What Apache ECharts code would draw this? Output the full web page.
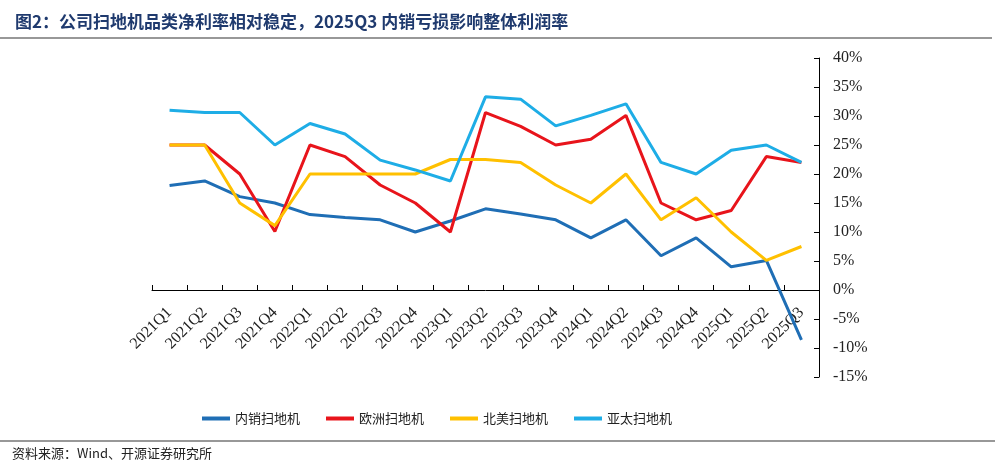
<!DOCTYPE html>
<html>
<head>
<meta charset="utf-8">
<script src="https://cdn.jsdelivr.net/npm/echarts@6/dist/echarts.min.js"></script>
<style>
html,body{margin:0;padding:0;background:#fff;}
#c{width:1000px;height:472px;}
</style>
</head>
<body>
<div id="c"></div>
<script>
var categories = ['2021Q1','2021Q2','2021Q3','2021Q4','2022Q1','2022Q2','2022Q3','2022Q4','2023Q1','2023Q2','2023Q3','2023Q4','2024Q1','2024Q2','2024Q3','2024Q4','2025Q1','2025Q2','2025Q3'];
var domestic = [18.0,18.8,16.1,15.0,13.0,12.5,12.1,10.0,11.9,14.0,13.1,12.1,9.0,12.1,5.9,9.0,4.0,5.1,-8.6];
var europe   = [25.0,25.0,20.0,10.1,25.0,23.0,18.1,15.0,10.0,30.6,28.2,25.0,26.0,30.1,15.0,12.1,13.7,23.0,22.0];
var northAm  = [25.0,25.0,15.0,11.1,20.0,20.0,20.0,20.0,22.5,22.5,22.0,18.1,15.0,20.0,12.1,15.9,10.0,5.1,7.5];
var asiaPac  = [31.0,30.6,30.6,25.0,28.7,26.9,22.4,20.7,18.8,33.3,32.9,28.3,30.1,32.1,22.0,20.0,24.1,25.0,22.0];
var seriesNames = ['内销扫地机','欧洲扫地机','北美扫地机','亚太扫地机'];
var yTicks = {min:-15, max:40, interval:5};

var colors = ['#1F6EB5','#E8141B','#FFC000','#1EADE6'];
var serif = '"Liberation Serif","Times New Roman",serif';
var cjk = '"Noto Sans CJK SC","Noto Sans",sans-serif';

var gridTop = 58, gridBottom = 95, H = 472;
var plotH = H - gridTop - gridBottom;
var zeroOffset = -plotH * (0 - yTicks.min) / (yTicks.max - yTicks.min);

var chart = echarts.init(document.getElementById('c'), null, {renderer:'canvas'});
function mk(name, data, i){
  return {name:name, type:'line', data:data, showSymbol:false, symbol:'none',
    lineStyle:{width:3, color:colors[i]}, itemStyle:{color:colors[i]}, smooth:false, animation:false};
}
chart.setOption({
  animation:false,
  title:{text:'图2：公司扫地机品类净利率相对稳定，2025Q3 内销亏损影响整体利润率', left:10, top:8,
    textStyle:{fontSize:17, fontWeight:'bold', color:'#1F3A6E', fontFamily:cjk}},
  graphic:[
    {type:'line', shape:{x1:0,y1:38,x2:992,y2:38}, style:{stroke:'#333',lineWidth:1.2}},
    {type:'line', shape:{x1:0,y1:441,x2:995,y2:441}, style:{stroke:'#333',lineWidth:1.2}},
    {type:'text', left:12, top:447, style:{text:'资料来源：Wind、开源证券研究所', fontSize:13, fill:'#222', fontFamily:cjk}}
  ],
  legend:{data:seriesNames, left:197, top:407, itemWidth:28, itemHeight:4, itemGap:26, icon:'rect',
    textStyle:{fontSize:13, color:'#222', fontFamily:cjk}},
  grid:{left:152, right:181, top:gridTop, bottom:gridBottom, containLabel:false},
  xAxis:{type:'category', data:categories, boundaryGap:true, position:'bottom', offset:zeroOffset,
    axisLine:{onZero:false, lineStyle:{color:'#000', width:1}},
    axisTick:{show:true, inside:true, length:5, lineStyle:{color:'#000'}},
    axisLabel:{rotate:45, fontSize:16, color:'#222', fontFamily:serif, margin:20, interval:0},
    splitLine:{show:false}},
  yAxis:{type:'value', position:'right', min:yTicks.min, max:yTicks.max, interval:yTicks.interval,
    axisLine:{show:true, lineStyle:{color:'#000', width:1}},
    axisTick:{show:true, inside:true, length:5, lineStyle:{color:'#000'}},
    axisLabel:{formatter:'{value}%', fontSize:16, color:'#222', fontFamily:serif, margin:14},
    splitLine:{show:false}},
  series:[mk(seriesNames[0],domestic,0), mk(seriesNames[1],europe,1), mk(seriesNames[2],northAm,2), mk(seriesNames[3],asiaPac,3)]
});
</script>
</body>
</html>
